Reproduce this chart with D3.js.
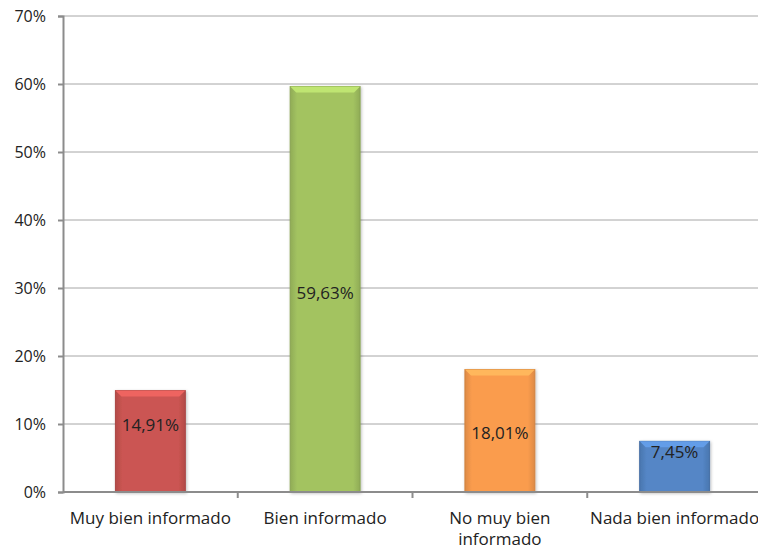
<!DOCTYPE html>
<html>
<head>
<meta charset="utf-8">
<script src="https://cdn.jsdelivr.net/npm/d3@7"></script>
<style>
  html, body { margin: 0; padding: 0; background: #fff; }
  svg { display: block; }
  text { font-family: "Open Sans", "Noto Sans", sans-serif; fill: #222; }
</style>
</head>
<body>
<div id="chart"></div>
<script>
// Survey: how well informed respondents consider themselves (share of answers, %)
const categories = [["Muy bien informado"], ["Bien informado"], ["No muy bien", "informado"], ["Nada bien informado"]];
const values = [14.91, 59.63, 18.01, 7.45];
const valueLabels = ["14,91%", "59,63%", "18,01%", "7,45%"];
const labelAt = [10.0, 29.3, 8.8, 5.9];   // where each value label sits, in % units
const yTicks = [0, 10, 20, 30, 40, 50, 60, 70];
const fills = ["#CB5552", "#A3C361", "#FA9C4E", "#5486C6"];

const W = 758, H = 549;
const margin = { top: 16, right: -4, bottom: 57, left: 63 };

const svg = d3.select("#chart").append("svg").attr("width", W).attr("height", H);
const defs = svg.append("defs");

const x = d3.scaleBand()
  .domain(d3.range(categories.length))
  .range([margin.left, W - margin.right])
  .paddingInner(0.6).paddingOuter(0.3);

const y = d3.scaleLinear().domain([0, 70]).range([H - margin.bottom, margin.top]);

// gridlines
svg.append("g")
  .selectAll("line").data(yTicks.filter(d => d > 0)).join("line")
  .attr("x1", margin.left).attr("x2", W)
  .attr("y1", d => y(d)).attr("y2", d => y(d))
  .attr("stroke", "#A6A6A6").attr("stroke-width", 1);

// y axis
const yAxis = svg.append("g")
  .attr("transform", `translate(${margin.left},0)`)
  .call(d3.axisLeft(y).tickValues(yTicks).tickFormat(d => d + "%").tickSize(5).tickPadding(12));
yAxis.select(".domain").attr("stroke", "#8C8C8C").attr("stroke-width", 2);
yAxis.selectAll(".tick line").attr("stroke", "#8C8C8C").attr("stroke-width", 2);
yAxis.selectAll(".tick text").attr("font-size", 16).attr("fill", "#222")
  .attr("font-family", "'Open Sans', 'Noto Sans', sans-serif");

// bar gradients: subtle side shading
fills.forEach((c, i) => {
  const g = defs.append("linearGradient").attr("id", "bar" + i).attr("x1", 0).attr("x2", 1).attr("y1", 0).attr("y2", 0);
  const base = d3.color(c);
  g.append("stop").attr("offset", "0%").attr("stop-color", base.darker(0.35));
  g.append("stop").attr("offset", "10%").attr("stop-color", base);
  g.append("stop").attr("offset", "90%").attr("stop-color", base);
  g.append("stop").attr("offset", "100%").attr("stop-color", base.darker(0.35));
});

const filter = defs.append("filter").attr("id", "shadow").attr("x", "-20%").attr("y", "-20%").attr("width", "140%").attr("height", "140%");
filter.append("feDropShadow").attr("dx", 1).attr("dy", 1).attr("stdDeviation", 1.5).attr("flood-color", "#000").attr("flood-opacity", 0.25);

const bars = svg.append("g").selectAll("g").data(values).join("g");

bars.append("rect")
  .attr("x", (d, i) => x(i))
  .attr("y", d => y(d))
  .attr("width", x.bandwidth())
  .attr("height", d => y(0) - y(d))
  .attr("fill", (d, i) => `url(#bar${i})`)
  .attr("stroke", (d, i) => d3.color(fills[i]).darker(0.5))
  .attr("stroke-width", 1)
  .attr("filter", "url(#shadow)");

// bevelled top edge
bars.append("path")
  .attr("d", (d, i) => {
    const x0 = x(i), x1 = x(i) + x.bandwidth(), t = y(d), b = 6;
    return `M${x0},${t}L${x1},${t}L${x1 - b},${t + b}L${x0 + b},${t + b}Z`;
  })
  .attr("fill", (d, i) => d3.color(fills[i]).brighter(0.45));

// x axis baseline and category separators
const base = y(0);
svg.append("line").attr("x1", margin.left).attr("x2", W).attr("y1", base).attr("y2", base)
  .attr("stroke", "#8C8C8C").attr("stroke-width", 2);
const boundaries = d3.range(1, categories.length).map(i => (x(i - 1) + x(i) + x.bandwidth()) / 2);
svg.append("g").selectAll("line").data(boundaries).join("line")
  .attr("x1", d => d).attr("x2", d => d)
  .attr("y1", base).attr("y2", base + 6)
  .attr("stroke", "#8C8C8C").attr("stroke-width", 2);

// category labels
const cat = svg.append("g").selectAll("text").data(categories).join("text")
  .attr("text-anchor", "middle")
  .attr("font-size", 17)
  .attr("x", (d, i) => x(i) + x.bandwidth() / 2)
  .attr("y", base + 32);
cat.selectAll("tspan").data(d => d).join("tspan")
  .attr("x", function () { return d3.select(this.parentNode).attr("x"); })
  .attr("dy", (d, j) => j === 0 ? 0 : 21)
  .text(d => d);

// value labels
svg.append("g").selectAll("text").data(valueLabels).join("text")
  .attr("text-anchor", "middle")
  .attr("dominant-baseline", "central")
  .attr("font-size", 17)
  .attr("fill", "#1a1a1a")
  .attr("x", (d, i) => x(i) + x.bandwidth() / 2)
  .attr("y", (d, i) => y(labelAt[i]))
  .text(d => d);
</script>
</body>
</html>
